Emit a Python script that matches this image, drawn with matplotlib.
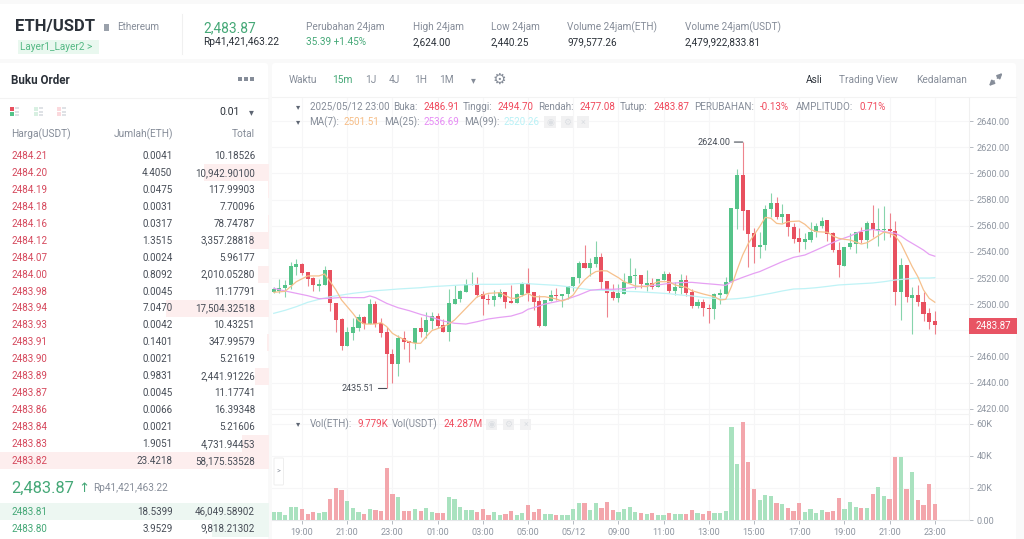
import matplotlib
matplotlib.use("Agg")
import matplotlib.pyplot as plt
from matplotlib.patches import Rectangle, FancyBboxPatch

plt.rcParams["font.family"] = ["Roboto", "DejaVu Sans"]

# 15m candles, index 0 = 19:00
start_idx = -5
opens = [2509.1, 2510.1, 2512.4, 2514.4, 2528.7,
         2530.7, 2524.4, 2520.3, 2514.2, 2514.7,
         2526.4, 2501.2, 2488.4, 2468.3, 2478.2,
         2482.0, 2490.5, 2484.6, 2500.4, 2485.9,
         2478.7, 2461.9, 2454.3, 2474.1, 2471.6,
         2470.1, 2481.8, 2478.5, 2487.4, 2491.0,
         2483.8, 2478.7, 2500.1, 2503.9, 2509.1,
         2514.4, 2515.4, 2507.8, 2504.2, 2503.2,
         2505.7, 2509.6, 2502.2, 2500.6, 2507.0,
         2516.5, 2509.1, 2502.4, 2483.6, 2502.4,
         2507.0, 2506.5, 2507.5, 2513.9, 2520.0,
         2531.5, 2527.9, 2530.7, 2536.3, 2518.0,
         2509.3, 2504.5, 2508.0, 2516.2, 2521.3,
         2522.6, 2514.9, 2516.2, 2513.1, 2518.8,
         2523.3, 2509.8, 2512.4, 2518.2, 2509.3,
         2498.6, 2501.7, 2497.1, 2496.6, 2507.0,
         2507.8, 2516.7, 2572.5, 2598.5, 2572.0,
         2554.7, 2544.0, 2545.3, 2572.8, 2577.1,
         2566.7, 2569.2, 2559.3, 2550.4, 2547.8,
         2549.1, 2555.2, 2559.8, 2564.1, 2554.2,
         2541.4, 2529.5, 2543.5, 2546.0, 2555.2,
         2548.8, 2561.8, 2556.7, 2556.7, 2557.8,
         2556.2, 2509.3, 2530.2, 2505.0, 2507.0,
         2501.9, 2493.0, 2486.91]
closes = [2511.4, 2512.6, 2514.9, 2529.2, 2530.5,
          2523.6, 2519.5, 2514.7, 2515.4, 2526.4,
          2500.6, 2487.9, 2468.3, 2478.7, 2482.6,
          2490.5, 2484.8, 2500.4, 2484.8, 2478.2,
          2461.7, 2454.3, 2474.1, 2471.1, 2470.1,
          2481.8, 2478.5, 2487.9, 2491.0, 2483.3,
          2478.7, 2500.9, 2504.2, 2509.8, 2515.4,
          2515.4, 2507.3, 2504.0, 2503.2, 2506.3,
          2509.6, 2501.7, 2500.6, 2507.8, 2516.5,
          2508.8, 2501.7, 2483.6, 2503.2, 2507.0,
          2506.0, 2508.0, 2514.2, 2520.5, 2531.2,
          2527.9, 2531.2, 2536.3, 2517.2, 2508.8,
          2504.5, 2508.6, 2517.0, 2521.8, 2522.6,
          2515.4, 2516.2, 2513.4, 2519.3, 2523.3,
          2509.8, 2512.9, 2518.2, 2508.8, 2498.9,
          2501.9, 2496.8, 2496.1, 2507.8, 2508.6,
          2517.2, 2573.3, 2598.5, 2571.5, 2553.9,
          2544.0, 2545.5, 2572.8, 2577.1, 2566.4,
          2569.2, 2559.0, 2549.8, 2547.8, 2549.6,
          2555.5, 2560.0, 2563.9, 2553.7, 2541.2,
          2529.7, 2543.7, 2546.5, 2555.2, 2548.8,
          2561.8, 2556.7, 2557.8, 2557.8, 2555.7,
          2509.6, 2530.2, 2505.2, 2506.8, 2501.4,
          2492.5, 2486.1, 2483.87]
highs = [2513.4, 2519.0, 2518.5, 2532.5, 2534.3,
         2531.2, 2524.9, 2521.0, 2519.3, 2529.2,
         2526.4, 2501.2, 2489.2, 2482.8, 2489.2,
         2492.2, 2491.0, 2504.0, 2502.4, 2489.2,
         2482.8, 2465.5, 2476.4, 2479.8, 2471.6,
         2481.8, 2490.5, 2494.3, 2494.3, 2493.5,
         2488.4, 2511.4, 2514.4, 2510.9, 2519.0,
         2524.6, 2521.0, 2509.8, 2507.8, 2510.9,
         2511.4, 2509.6, 2514.7, 2508.8, 2517.2,
         2527.9, 2509.1, 2507.0, 2503.2, 2510.9,
         2512.1, 2508.0, 2514.2, 2521.0, 2533.3,
         2545.0, 2535.1, 2548.1, 2538.9, 2518.0,
         2515.4, 2515.4, 2523.6, 2535.1, 2527.7,
         2522.6, 2526.4, 2519.8, 2519.3, 2525.4,
         2524.9, 2516.7, 2522.8, 2522.3, 2511.4,
         2503.7, 2503.7, 2500.1, 2508.3, 2511.4,
         2520.5, 2573.8, 2603.6, 2624.0, 2572.0,
         2558.0, 2555.2, 2575.8, 2585.3, 2581.7,
         2576.6, 2569.2, 2561.8, 2558.0, 2554.2,
         2563.1, 2561.8, 2566.9, 2564.1, 2555.5,
         2547.8, 2543.7, 2554.7, 2555.2, 2559.3,
         2563.9, 2575.8, 2573.3, 2575.1, 2569.5,
         2563.9, 2535.1, 2530.2, 2512.9, 2514.7,
         2509.6, 2497.3, 2494.70]
lows = [2508.3, 2508.3, 2505.7, 2511.4, 2522.3,
        2522.3, 2514.2, 2510.3, 2510.3, 2514.7,
        2495.0, 2478.7, 2465.2, 2468.3, 2472.6,
        2479.5, 2481.0, 2484.6, 2482.8, 2475.2,
        2435.51, 2439.5, 2445.1, 2465.7, 2455.8,
        2465.7, 2474.6, 2473.9, 2480.8, 2481.5,
        2478.5, 2471.9, 2500.1, 2501.9, 2509.1,
        2514.4, 2505.7, 2491.7, 2499.9, 2498.9,
        2504.5, 2497.3, 2500.6, 2500.6, 2506.5,
        2502.7, 2495.5, 2482.8, 2483.6, 2502.4,
        2503.2, 2497.6, 2504.0, 2510.3, 2515.9,
        2527.9, 2521.8, 2528.7, 2511.4, 2490.0,
        2503.2, 2501.7, 2508.0, 2516.2, 2511.4,
        2512.1, 2510.3, 2511.9, 2513.1, 2518.8,
        2508.3, 2507.0, 2507.8, 2506.3, 2496.8,
        2496.8, 2491.2, 2485.9, 2488.4, 2500.0,
        2507.8, 2516.7, 2557.2, 2556.7, 2528.7,
        2531.2, 2535.1, 2541.4, 2566.4, 2564.9,
        2561.8, 2552.1, 2547.0, 2539.6, 2542.2,
        2547.3, 2551.6, 2558.0, 2548.3, 2540.2,
        2521.0, 2528.9, 2541.9, 2539.4, 2546.5,
        2543.2, 2551.6, 2544.8, 2549.1, 2551.6,
        2499.4, 2487.9, 2501.9, 2477.2, 2498.9,
        2487.4, 2480.8, 2477.08]
volumes = [5.2, 5.0, 3.3, 8.1, 8.1, 6.7, 4.0, 5.2, 4.4, 5.2,
           13.3, 20.2, 18.8, 12.1, 7.7, 4.8, 3.8, 6.9, 6.5, 5.8,
           32.5, 16.3, 14.2, 5.6, 5.8, 7.1, 5.8, 7.5, 5.0, 4.6,
           4.2, 14.4, 12.9, 8.1, 6.3, 6.5, 5.2, 6.9, 3.3, 4.8,
           2.9, 4.0, 5.6, 2.9, 4.4, 9.4, 4.8, 6.7, 3.8, 3.8,
           3.1, 3.3, 3.3, 6.9, 10.4, 10.8, 6.0, 10.8, 7.3, 11.5,
           6.5, 5.0, 6.7, 8.3, 5.0, 4.6, 3.5, 4.2, 3.1, 3.3,
           4.4, 4.0, 3.8, 3.5, 6.5, 4.6, 3.8, 5.6, 4.6, 4.4,
           5.8, 57.9, 34.6, 60.8, 36.3, 19.0, 12.3, 15.4, 15.2, 10.6,
           9.8, 7.5, 5.8, 10.6, 5.0, 7.1, 4.2, 6.0, 5.2, 5.4,
           13.5, 6.9, 11.5, 7.9, 7.3, 7.3, 16.0, 20.8, 15.0, 13.1,
           39.2, 39.4, 19.0, 30.0, 12.7, 9.6, 22.5, 9.779]

ma7_idx = [-5, -3, -1, 1, 3, 4, 5, 6, 7, 8, 9, 10, 11, 13, 14, 15, 16, 17, 19, 20, 21, 22, 23, 25, 26, 27,
           29, 31, 33, 35, 37, 38, 40, 41, 43, 45, 46, 47, 48, 49, 50, 51, 52, 53, 54, 55, 56, 57, 59, 61,
           63, 65, 66, 68, 69, 71, 73, 74, 75, 76, 77, 78, 79, 80, 81, 82, 83, 84, 85, 86, 88, 89, 90, 91,
           93, 94, 95, 96, 97, 99, 100, 101, 102, 103, 104, 105, 106, 107, 108, 109, 110, 111, 112]
ma7 = [2509.1, 2509.8, 2517.2, 2521.6, 2521.6, 2523.1, 2517.2, 2510.9, 2503.2, 2498.1, 2493.0, 2487.4, 2484.8,
       2484.8, 2485.9, 2482.8, 2477.7, 2475.2, 2471.1, 2470.1, 2470.1, 2475.2, 2479.8, 2482.8, 2484.8, 2487.9,
       2496.8, 2505.7, 2508.3, 2508.8, 2504.5, 2504.5, 2508.3, 2505.7, 2505.7, 2504.0, 2502.4, 2504.0, 2507.0,
       2513.4, 2518.5, 2522.3, 2524.9, 2525.6, 2525.4, 2522.8, 2520.3, 2517.2, 2513.9, 2513.4, 2517.2, 2517.2,
       2514.7, 2512.9, 2510.3, 2507.8, 2505.7, 2503.2, 2503.7, 2513.4, 2526.1, 2537.6, 2546.5, 2552.9, 2559.3,
       2566.4, 2565.7, 2561.8, 2561.3, 2563.1, 2563.6, 2561.1, 2557.2, 2555.5, 2555.0, 2552.1, 2550.4, 2549.6,
       2549.1, 2546.0, 2547.0, 2549.6, 2552.4, 2555.2, 2554.2, 2552.1, 2546.5, 2537.6, 2528.7, 2521.0, 2510.9,
       2504.5, 2501.51]
ma25_idx = [-5, -3, -1, 1, 3, 5, 7, 9, 11, 12, 13, 15, 17, 19, 21, 23, 25, 27, 29, 31, 33, 35, 37, 39, 40, 41,
            43, 45, 47, 49, 51, 53, 55, 57, 59, 61, 63, 65, 67, 69, 71, 73, 75, 76, 78, 80, 81, 83, 85, 87, 89,
            91, 93, 95, 97, 99, 101, 103, 105, 106, 107, 109, 110, 111, 112]
ma25 = [2512.1, 2510.1, 2508.3, 2506.5, 2504.2, 2504.5, 2505.2, 2505.0, 2505.0, 2506.3, 2505.0, 2500.6, 2497.3,
        2495.0, 2492.2, 2489.9, 2487.1, 2485.4, 2484.8, 2486.6, 2488.7, 2489.9, 2490.9, 2493.5, 2496.1, 2497.3,
        2500.1, 2501.9, 2504.0, 2507.0, 2510.6, 2511.4, 2511.4, 2511.9, 2513.1, 2513.9, 2514.7, 2515.9, 2516.5,
        2516.7, 2515.9, 2515.2, 2514.4, 2517.2, 2520.5, 2523.6, 2524.9, 2528.7, 2532.5, 2535.8, 2537.6, 2541.4,
        2545.3, 2549.1, 2552.1, 2556.0, 2557.2, 2555.5, 2554.2, 2552.1, 2549.1, 2544.0, 2541.4, 2538.1, 2536.69]
ma99_idx = list(range(-5, 112, 2)) + [112]
ma99 = [2493.0, 2495.3, 2498.1, 2501.4, 2503.7, 2505.7, 2507.0, 2508.3, 2509.3, 2510.3, 2510.9, 2511.6, 2512.1,
        2512.6, 2513.4, 2513.9, 2514.4, 2514.9, 2515.2, 2515.2, 2515.2, 2515.4, 2515.9, 2515.4, 2514.9, 2514.4,
        2513.4, 2512.1, 2511.1, 2510.6, 2510.3, 2509.8, 2509.6, 2509.1, 2508.6, 2508.0, 2507.0, 2506.3, 2505.2,
        2504.5, 2503.7, 2504.2, 2505.2, 2506.8, 2508.3, 2510.1, 2511.6, 2511.9, 2512.6, 2513.6, 2514.7, 2515.2,
        2515.7, 2516.2, 2517.2, 2518.5, 2519.3, 2520.0, 2520.0, 2520.26]

price_ticks = [2420, 2440, 2460, 2480, 2500, 2520, 2540, 2560, 2580, 2600, 2620, 2640]
time_labels = ["19:00", "21:00", "23:00", "01:00", "03:00", "05:00", "05/12", "09:00",
               "11:00", "13:00", "15:00", "17:00", "19:00", "21:00", "23:00"]
vol_ticks = [0, 20, 40, 60]
vol_labels = ["0.00", "20K", "40K", "60K"]

# order book
ask_prices = ["2484.21", "2484.20", "2484.19", "2484.18", "2484.16", "2484.12", "2484.07", "2484.00", "2483.98",
              "2483.94", "2483.93", "2483.91", "2483.90", "2483.89", "2483.87", "2483.86", "2483.84", "2483.83",
              "2483.82"]
ask_amounts = ["0.0041", "4.4050", "0.0475", "0.0031", "0.0317", "1.3515", "0.0024", "0.8092", "0.0045",
               "7.0470", "0.0042", "0.1401", "0.0021", "0.9831", "0.0045", "0.0066", "0.0021", "1.9051",
               "23.4218"]
ask_totals = ["10.18526", "10,942.90100", "117.99903", "7.70096", "78.74787", "3,357.28818", "5.96177",
              "2,010.05280", "11.17791", "17,504.32518", "10.43251", "347.99579", "5.21619", "2,441.91226",
              "11.17741", "16.39348", "5.21606", "4,731.94453", "58,175.53528"]
ask_depth = [0, 0.24, 0.003, 0, 0.002, 0.07, 0, 0.04, 0, 0.38, 0, 0.006, 0, 0.05, 0, 0, 0, 0.10, 1.0]
bid_prices = ["2483.81", "2483.80"]
bid_amounts = ["18.5399", "3.9529"]
bid_totals = ["46,049.58902", "9,818.21302"]
bid_depth = [1.0, 0.21]

stat_labels = ["Perubahan 24jam", "High 24jam", "Low 24jam", "Volume 24jam(ETH)", "Volume 24jam(USDT)"]
stat_values = ["35.39 +1.45%", "2,624.00", "2,440.25", "979,577.26", "2,479,922,833.81"]

GREEN, RED = "#55c389", "#e8505f"
VGREEN, VRED = "#a9e2bf", "#f3a6ac"
TXT_RED, TXT_GREEN = "#d5485c", "#45a877"
DARK, GRAY, AXIS = "#2b3139", "#868d99", "#8f96a1"
GRID = "#f6f6f7"
W, H = 1024, 539


def pxaxes(fig, left, top, right, bottom):
    return fig.add_axes([left / W, 1 - bottom / H, (right - left) / W, (bottom - top) / H])


fig = plt.figure(figsize=(W / 100, H / 100), dpi=100, facecolor="#f9f9f9")

# UI layer, in pixels
ui = fig.add_axes([0, 0, 1, 1])
ui.set_xlim(0, W); ui.set_ylim(H, 0); ui.axis("off")


def t(x, y, s, color=DARK, size=7.1, ha="left", weight="normal", **kw):
    ui.text(x, y, s, color=color, fontsize=size, ha=ha, va="center", fontweight=weight, **kw)


def rect(x, y, w, h, color, **kw):
    ui.add_patch(Rectangle((x, y), w, h, facecolor=color, edgecolor="none", **kw))


for x, y, w, h in [(-6, 4, 1040, 55), (-6, 63, 274, 490), (272, 63, 744, 490)]:
    ui.add_patch(FancyBboxPatch((x + 3, y + 3), w - 6, h - 6, boxstyle="round,pad=3", facecolor="white", edgecolor="none"))

# header
t(15, 27, "ETH/USDT", size=12, weight="bold")
rect(104, 24, 5, 7, "#9aa1ab")
t(117, 27, "Ethereum", GRAY)
rect(18, 40, 81, 14, "#e9f8ef")
t(20.5, 47, "Layer1_Layer2 >", "#55b985", 7.2)
ui.plot([182, 182], [14, 54], color="#f0f0f0", lw=0.8)
t(203, 28, "2,483.87", TXT_GREEN, 9.9)
t(203, 42, "Rp41,421,463.22", DARK, 7.3)
for x, lab, val in zip([306, 413, 491, 567, 685], stat_labels, stat_values):
    t(x, 27, lab, GRAY, 7.2)
    t(x, 42, val, TXT_GREEN if lab == stat_labels[0] else DARK, 7.2)

# order book
t(11, 80, "Buku Order", size=8.4, weight="bold")
for x in [238, 244, 250]:
    rect(x, 77, 3.5, 3.5, "#868d99")
ui.plot([0, 268], [97.5, 97.5], color="#f3f3f3", lw=0.8)
for x, c1, c2 in [(10, RED, GREEN), (34, "#d8f0e2", "#d8f0e2"), (57, "#fbd9dd", "#fbd9dd")]:
    rect(x, 107, 4, 4, c1); rect(x, 112, 4, 4, c2)
    rect(x + 5, 107, 4, 2, "#dfe2e6"); rect(x + 5, 110.5, 4, 2, "#dfe2e6"); rect(x + 5, 114, 4, 2, "#dfe2e6")
t(240, 112, "0.01", DARK, 7.6, ha="right")
t(251, 112, "▾", "#5e6673", 7, ha="center")
t(11, 134, "Harga(USDT)", GRAY, 7.3)
t(173.5, 134, "Jumlah(ETH)", GRAY, 7.3, ha="right")
t(255, 134, "Total", GRAY, 7.3, ha="right")
for i, (p, a, tot, d) in enumerate(zip(ask_prices, ask_amounts, ask_totals, ask_depth)):
    y = 156 + i * 16.94
    if d:
        rect(268.5 - d * 268.5, y - 8.5, d * 268.5, 17, "#fdeeee")
    t(11, y, p, TXT_RED)
    t(172.5, y, a, "#474d57", ha="right")
    t(255, y, tot, "#474d57", ha="right")
t(11, 488, "2,483.87", TXT_GREEN, 11.8)
t(78.5, 488, "↑", TXT_GREEN, 9.5)
t(93, 488, "Rp41,421,463.22", GRAY, 7.2)
for i, (p, a, tot, d) in enumerate(zip(bid_prices, bid_amounts, bid_totals, bid_depth)):
    y = 511.7 + i * 16.94
    rect(268.5 - d * 268.5, y - 8.5, d * 268.5, 17, "#edf7f2")
    t(11, y, p, TXT_GREEN)
    t(172.5, y, a, "#474d57", ha="right")
    t(255, y, tot, "#474d57", ha="right")

# chart toolbar
t(289, 80, "Waktu", GRAY, 7.3)
t(332, 80, "15m", TXT_GREEN, 7.3)
for x, s in zip([365, 389, 414, 439], ["1J", "4J", "1H", "1M"]):
    t(x, 80, s, GRAY, 7.3)
t(473, 80, "▾", GRAY, 7, ha="center")
t(499, 79.5, "⚙", "#868d99", 11, ha="center")
t(806, 80, "Asli", DARK, 7.3)
t(839, 80, "Trading View", GRAY, 7.3)
t(916, 80, "Kedalaman", GRAY, 7.3)
ui.annotate("", xy=(1002.5, 73), xytext=(997.5, 78), arrowprops=dict(arrowstyle="-|>", color="#868d99", lw=1.3, shrinkA=0, shrinkB=0, mutation_scale=7))
ui.annotate("", xy=(989, 86), xytext=(994, 81), arrowprops=dict(arrowstyle="-|>", color="#868d99", lw=1.3, shrinkA=0, shrinkB=0, mutation_scale=7))
ui.plot([272, 1016], [97, 97], color="#f3f3f3", lw=0.8)

# x scale: idx 0 sits at 302px, 5.65px per candle
x_left = (272 - 302) / 5.65
x_right = (969 - 302) / 5.65
idx = list(range(start_idx, start_idx + len(opens)))
grid_x = [i * 8 for i in range(len(time_labels))]

ax = pxaxes(fig, 272, 98, 969, 414)
ax.set_facecolor("none")
ax.set_xlim(x_left, x_right)
ax.set_ylim(2416.0, 2657.7)
for i, o, h, l, c in zip(idx, opens, highs, lows, closes):
    col = GREEN if c >= o else RED
    ax.vlines(i, l, h, color=col, lw=0.8, alpha=0.7, zorder=2)
    ax.bar(i, abs(c - o), bottom=min(o, c), width=0.72, color=col, lw=0, zorder=3)
ax.plot(ma99_idx, ma99, color="#bff3f6", lw=0.9, zorder=4)
ax.plot(ma25_idx, ma25, color="#e6a0f3", lw=0.9, zorder=4)
ax.plot(ma7_idx, ma7, color="#f6c08c", lw=0.9, zorder=4)
ax.set_xticks(grid_x)
ax.set_yticks(price_ticks)
ax.grid(color=GRID, lw=0.8, zorder=0)
ax.set_axisbelow(True)
ax.tick_params(axis="x", length=0, labelbottom=False)
ax.yaxis.tick_right()
ax.tick_params(axis="y", length=3, width=0.7, color="#b5bac2", labelcolor=AXIS, labelsize=6.6, pad=2.5)
# 2480 sits under the last-price tag
ax.set_yticklabels(["" if v == 2480 else f"{v:.2f}" for v in price_ticks])
for s in ["top", "left", "bottom"]:
    ax.spines[s].set_visible(False)
ax.spines["right"].set_color("#f0f0f0")
for price, lab, off in [(2435.51, "2435.51", 15), (2624.00, "2624.00", 78)]:
    ax.annotate(lab, xy=(off, price), xytext=(-9, 0), textcoords="offset points", ha="right", va="center",
                fontsize=6.5, color="#474d57", arrowprops=dict(arrowstyle="-", color="#474d57", lw=0.8, shrinkA=1, shrinkB=0))

axv = pxaxes(fig, 272, 414, 969, 520)
axv.set_facecolor("none")
axv.set_xlim(x_left, x_right)
axv.set_ylim(0, 65.97)
axv.bar(idx, volumes, width=0.76, lw=0, zorder=3,
        color=[VGREEN if c >= o else VRED for o, c in zip(opens, closes)])
axv.set_xticks(grid_x)
axv.set_xticklabels(time_labels)
axv.set_yticks(vol_ticks)
axv.set_yticklabels(vol_labels)
axv.grid(color=GRID, lw=0.8, zorder=0)
axv.set_axisbelow(True)
axv.yaxis.tick_right()
axv.tick_params(axis="x", length=3, width=0.7, color="#b5bac2", labelcolor=AXIS, labelsize=6.6, pad=2.5)
axv.tick_params(axis="y", length=3, width=0.7, color="#b5bac2", labelcolor=AXIS, labelsize=6.6, pad=2.5)
axv.spines["left"].set_visible(False)
axv.spines["right"].set_color("#f0f0f0")
axv.spines["bottom"].set_color("#e6e8ea")
axv.spines["top"].set_color("#f3f3f3")

# legends drawn on top of the chart
top = fig.add_axes([0, 0, 1, 1], facecolor="none")
top.set_xlim(0, W); top.set_ylim(H, 0); top.axis("off")
ui = top
L, V = GRAY, "#f0495c"
t(298, 107, "▾", "#5e6673", 6, ha="center")
t(298, 122, "▾", "#5e6673", 6, ha="center")
for x, s, c in [(309.5, "2025/05/12 23:00", L), (393, "Buka:", L), (423, "2486.91", V), (463, "Tinggi:", L),
                (498, "2494.70", V), (538, "Rendah:", L), (580, "2477.08", V), (620, "Tutup:", L), (654, "2483.87", V),
                (694, "PERUBAHAN:", L), (760, "-0.13%", V), (796, "AMPLITUDO:", L), (860, "0.71%", V)]:
    t(x, 107, s, c, 7.1)
for x, s, c in [(309.5, "MA(7):", L), (344, "2501.51", "#f6bd86"), (384, "MA(25):", L), (424, "2536.69", "#e68bf5"),
                (464, "MA(99):", L), (503, "2520.26", "#b9f1f6")]:
    t(x, 122, s, c, 7.1)
for x, s in zip([544, 561, 577], ["◉", "⚙", "×"]):
    rect(x, 116, 12, 12, "#f1f1f2")
    t(x + 6, 122, s, "#dcdfe3", 6.5, ha="center")
t(298, 424, "▾", "#5e6673", 6, ha="center")
for x, s, c in [(310, "Vol(ETH):", L), (357, "9.779K", V), (392, "Vol(USDT)", L), (443, "24.287M", V)]:
    t(x, 424, s, c, 7.1)
for x, s in zip([486, 503, 520], ["◉", "⚙", "×"]):
    rect(x, 419, 11, 11, "#f1f1f2")
    t(x + 5.5, 424.5, s, "#dcdfe3", 6.5, ha="center")
top.add_patch(FancyBboxPatch((275, 459), 7.5, 25, boxstyle="round,pad=1", facecolor="white", edgecolor="#eeeeee", lw=0.7))
t(278.7, 471, ">", GRAY, 5, ha="center")
rect(969, 318, 48, 16, "#e85464")
t(993, 326, "2483.87", "white", 7, ha="center")

fig.savefig("out.png", dpi=100, facecolor=fig.get_facecolor())
